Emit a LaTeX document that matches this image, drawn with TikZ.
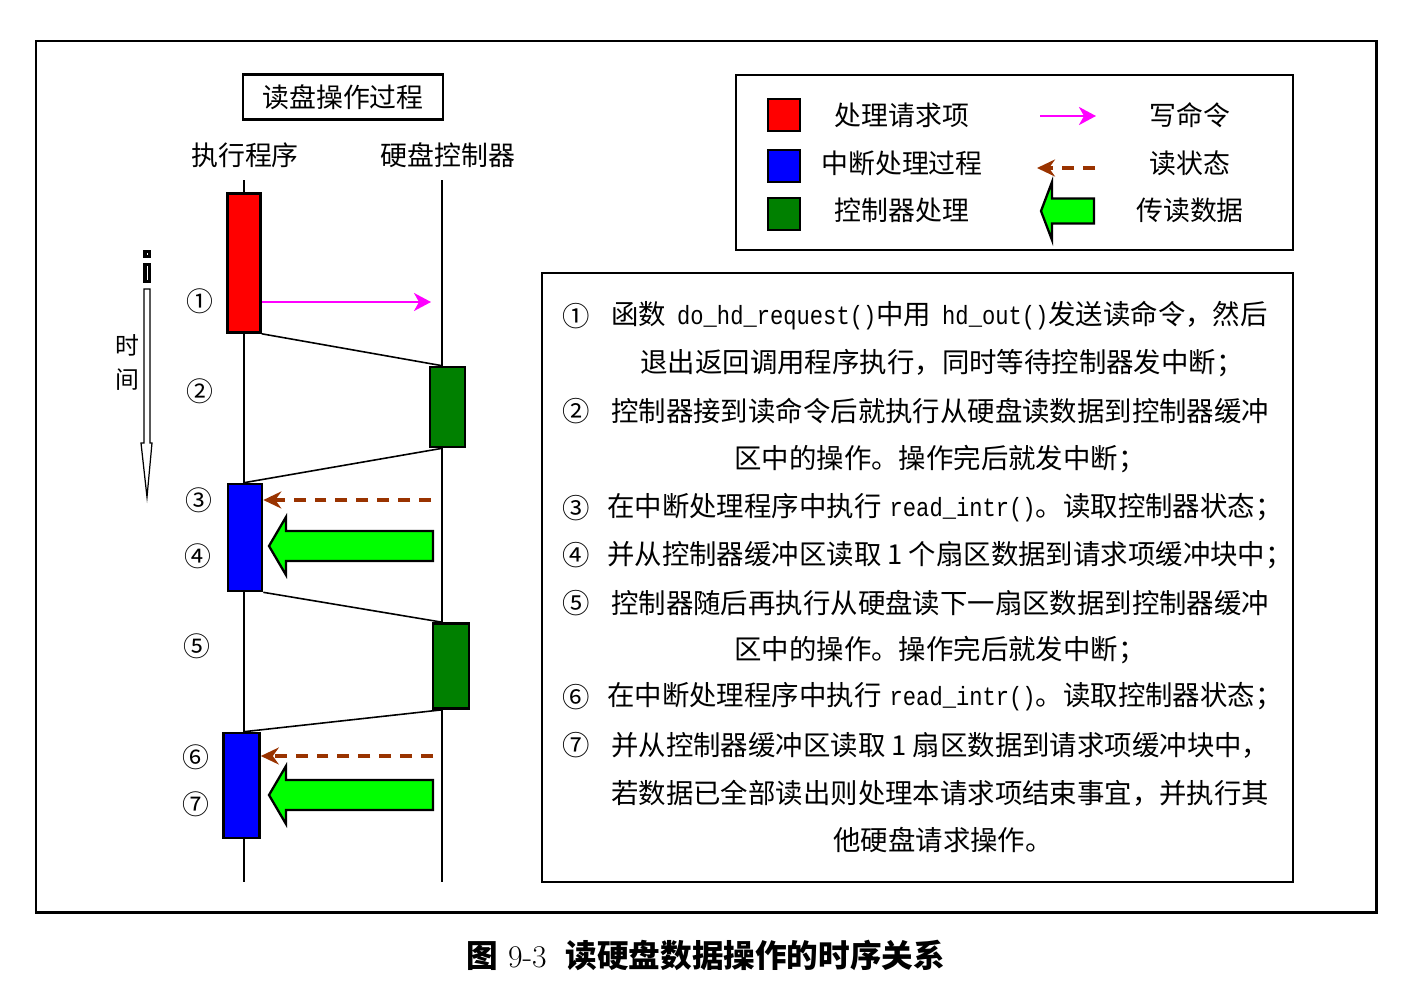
\documentclass[tikz,border=0pt]{standalone}
\usepackage{fontspec}
\usetikzlibrary{arrows.meta}
\newfontfamily\cjk{Noto Sans CJK SC}
\newfontfamily\codefont[FakeStretch=0.84]{Liberation Mono}
\newcommand{\code}[1]{{\codefont\fontsize{15}{18}\selectfont #1}}
\definecolor{reqred}{RGB}{255,0,0}
\definecolor{intblue}{RGB}{0,0,255}
\definecolor{ctlgreen}{RGB}{0,128,0}
\definecolor{datagreen}{RGB}{0,255,0}
\definecolor{statebrown}{RGB}{153,51,0}
\definecolor{cmdmagenta}{RGB}{255,0,255}
\tikzset{>=Stealth,
  txt/.style={font=\cjk\fontsize{15.3}{18}\selectfont,inner sep=0},
  bodytxt/.style={font=\cjk\fontsize{15.6}{18}\selectfont,inner sep=0},
  box/.style={draw,line width=1.5pt,inner sep=0},
  reqbox/.style={box,fill=reqred},
  intbox/.style={box,fill=intblue},
  ctlbox/.style={box,fill=ctlgreen},
  frame/.style={draw,line width=1.6pt},
  lifeline/.style={line width=0.8pt},
  cmdarrow/.style={->,cmdmagenta,line width=1.2pt,
    -{Stealth[length=0.34cm,width=0.36cm,inset=0.1cm]}},
  statearrow/.style={statebrown,line width=1.8pt,dash pattern=on 6.8pt off 5.1pt,
    -{Stealth[length=0.36cm,width=0.34cm,inset=0.12cm]}},
  datastyle/.style={draw,fill=datagreen,line width=1.3pt,line join=miter},
}
% tip, length, head length, head half-height, body half-height
\def\dataarrow#1#2#3#4#5{\draw[datastyle] (#1) -- ++(#3,-#4) -- ++(0,#4-#5)
  -- ++(#2-#3,0) -- ++(0,2*#5) -- ++(-#2+#3,0) -- ++(0,#4-#5) -- cycle}

\begin{document}
\begin{tikzpicture}[x=0.02cm,y=-0.02cm]
  \useasboundingbox (0,0) rectangle (1410,998);
  \draw[frame,line width=1.7pt] (36,41) rectangle (1376,912);

  % timing chart
  \node[box,line width=1.6pt,txt,minimum width=4cm,minimum height=0.9cm] (title) at (343,97) {读盘操作过程};
  \node[txt] (exec) at (245,155) {执行程序};
  \node[txt] (disk) at (448,155) {硬盘控制器};
  \coordinate (L) at (244,180);
  \coordinate (R) at (442,180);
  \coordinate (Lend) at (244,882);
  \coordinate (Rend) at (442,882);
  \draw[lifeline] (L) -- (Lend);
  \draw[lifeline] (R) -- (Rend);

  \node[reqbox,minimum width=0.66cm,minimum height=2.78cm] (req) at (244,263) {};
  \node[ctlbox,minimum width=0.7cm,minimum height=1.6cm] (ctl1) at (447.5,407) {};
  \node[intbox,minimum width=0.68cm,minimum height=2.14cm] (int1) at (245,537.5) {};
  \node[ctlbox,minimum width=0.72cm,minimum height=1.7cm] (ctl2) at (451,666) {};
  \node[intbox,minimum width=0.72cm,minimum height=2.1cm] (int2) at (241.5,785.5) {};

  \draw[lifeline,line width=0.9pt] (req.south east) -- (ctl1.north -| R);
  \draw[lifeline,line width=0.9pt] (ctl1.south -| R) -- (int1.north -| L);
  \draw[lifeline,line width=0.9pt] (int1.south east) -- (ctl2.north -| R);
  \draw[lifeline,line width=0.9pt] (ctl2.south -| R) -- (int2.north -| L);

  \coordinate (c1) at (431,302);
  \coordinate (s1) at (431,500);
  \coordinate (s2) at (433,756);
  \coordinate (d1) at (269,546);
  \coordinate (d2) at (269,795);
  \draw[cmdarrow] (req.east |- c1) -- (c1);
  \draw[statearrow] (s1) -- (int1.east |- s1);
  \draw[statearrow] (s2) -- (int2.east |- s2);
  \dataarrow{d1}{164}{17}{29}{15};
  \dataarrow{d2}{164}{17}{29}{15};

  \node[txt] (n1) at (200,301) {①};
  \node[txt] (n2) at (200,391) {②};
  \node[txt] (n3) at (199,500) {③};
  \node[txt] (n4) at (198,556) {④};
  \node[txt] (n5) at (197,646) {⑤};
  \node[txt] (n6) at (196,757) {⑥};
  \node[txt] (n7) at (196,804) {⑦};

  % time axis
  \fill (143,250) rectangle (151,258);
  \fill (143,263) rectangle (151,283);
  \draw[white,line width=0.5pt] (147,253) -- (147,255);
  \draw[white,line width=0.5pt] (147,266) -- (147,280);
  \draw[line width=0.7pt,fill=white] (144,289) -- (144,443) -- (141,443) -- (147,497)
    -- (152,443) -- (150,443) -- (150,289) -- cycle;
  \node[txt,font=\cjk\fontsize{13.6}{16}\selectfont] (t1) at (127,345) {时};
  \node[txt,font=\cjk\fontsize{13.6}{16}\selectfont] (t2) at (127,380) {间};

  % legend
  \draw[frame] (736,75) rectangle (1293,250);
  \node[reqbox,minimum size=0.64cm] (lreq) at (784,115) {};
  \node[intbox,minimum size=0.64cm] (lint) at (784,166) {};
  \node[ctlbox,minimum size=0.64cm] (lctl) at (784,214) {};
  \node[txt] (lreqt) at (902,115) {处理请求项};
  \node[txt] (lintt) at (902,163) {中断处理过程};
  \node[txt] (lctlt) at (902,210) {控制器处理};
  \coordinate (lc0) at (1040,116);
  \coordinate (lc1) at (1096,116);
  \coordinate (ls0) at (1095,168);
  \coordinate (ls1) at (1037,168);
  \coordinate (ld) at (1041,211);
  \draw[cmdarrow,line width=1.7pt] (lc0) -- (lc1);
  \draw[statearrow] (ls0) -- (ls1);
  \dataarrow{ld}{53}{11}{29}{12.5};
  \node[txt] (lcmd) at (1190,115) {写命令};
  \node[txt] (lstate) at (1190,163) {读状态};
  \node[txt] (ldata) at (1190,210) {传读数据};

  % explanation
  \draw[frame,line width=1.5pt] (542,273) rectangle (1293,882);
  \node[bodytxt] (e1) at (576,316) {①};
  \node[bodytxt] (e2) at (576,411) {②};
  \node[bodytxt] (e3) at (576,508) {③};
  \node[bodytxt] (e4) at (576,555) {④};
  \node[bodytxt] (e5) at (576,603) {⑤};
  \node[bodytxt] (e6) at (576,697) {⑥};
  \node[bodytxt] (e7) at (576,745) {⑦};
  \node[bodytxt,anchor=west] (l1) at (611,316) {函数\hspace{0.4em}\code{do\_hd\_request()}中用\hspace{0.4em}\code{hd\_out()}发送读命令，然后};
  \node[bodytxt] (l2) at (942,363) {退出返回调用程序执行，同时等待控制器发中断；};
  \node[bodytxt,anchor=west] (l3) at (611,411) {控制器接到读命令后就执行从硬盘读数据到控制器缓冲};
  \node[bodytxt] (l4) at (940,459) {区中的操作。操作完后就发中断；};
  \node[bodytxt,anchor=west] (l5) at (607,508) {在中断处理程序中执行\hspace{0.3em}\code{read\_intr()}。读取控制器状态；};
  \node[bodytxt,anchor=west] (l6) at (607,555) {并从控制器缓冲区读取 1 个扇区数据到请求项缓冲块中；};
  \node[bodytxt,anchor=west] (l7) at (611,603) {控制器随后再执行从硬盘读下一扇区数据到控制器缓冲};
  \node[bodytxt] (l8) at (940,650) {区中的操作。操作完后就发中断；};
  \node[bodytxt,anchor=west] (l9) at (607,697) {在中断处理程序中执行\hspace{0.3em}\code{read\_intr()}。读取控制器状态；};
  \node[bodytxt,anchor=west] (l10) at (611,745) {并从控制器缓冲区读取 1 扇区数据到请求项缓冲块中，};
  \node[bodytxt,anchor=west] (l11) at (611,793) {若数据已全部读出则处理本请求项结束事宜，并执行其};
  \node[bodytxt] (l12) at (943,840) {他硬盘请求操作。};

  \node[inner sep=0,font=\fontsize{18}{22}\selectfont] (caption) at (706,955)
    {{\cjk\bfseries 图} 9-3\hspace{0.6em}{\cjk\bfseries 读硬盘数据操作的时序关系}};
\end{tikzpicture}
\end{document}
